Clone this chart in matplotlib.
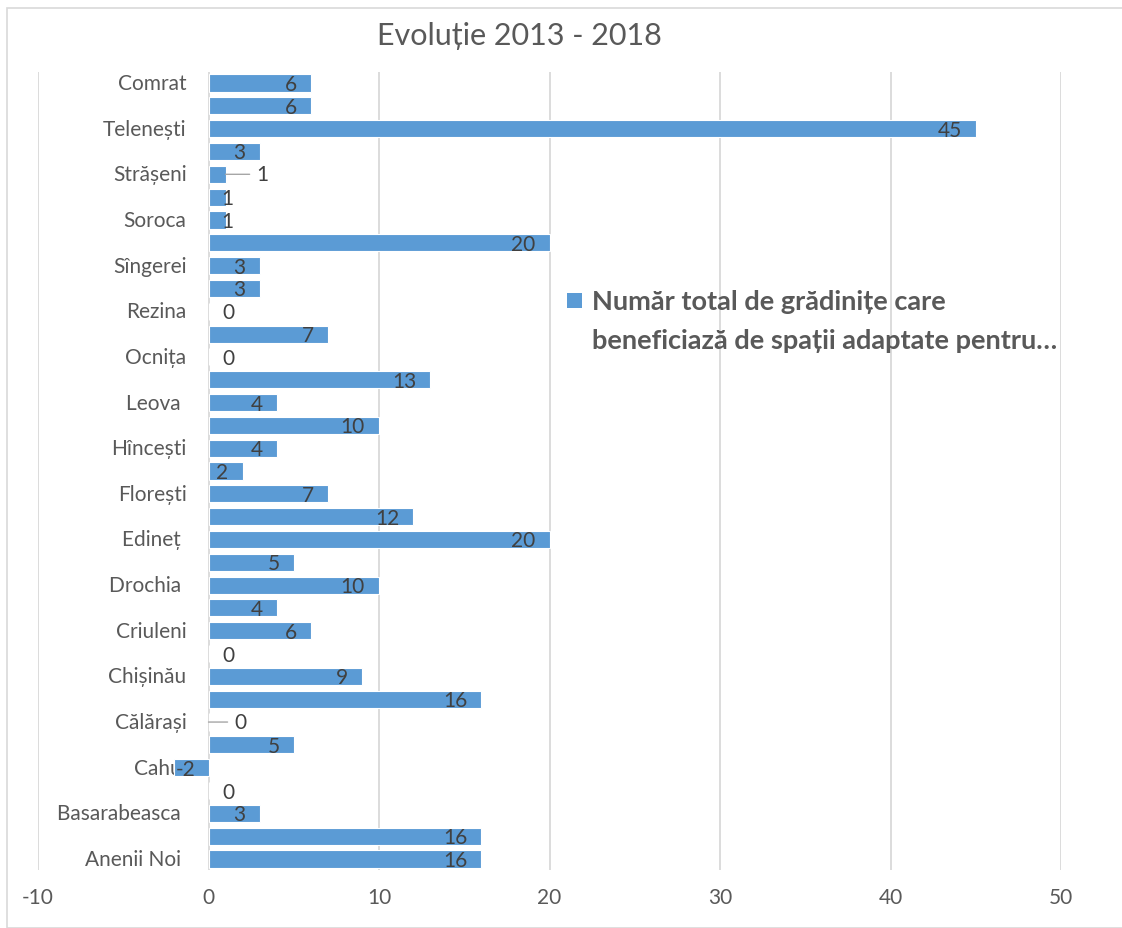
import matplotlib.pyplot as plt
from matplotlib.patches import Rectangle

# raioane, de jos in sus (ordinea din grafic)
raioane = ["Anenii Noi ", "Bălți", "Basarabeasca ", "Briceni", "Cahul", "Cantemir",
           "Călărași", "Căușeni", "Chișinău", "Cimișlia", "Criuleni", "Dondușeni",
           "Drochia ", "Dubăsari", "Edineț ", "Fălești", "Florești", "Glodeni",
           "Hîncești", "Ialoveni", "Leova ", "Nisporeni", "Ocnița", "Orhei",
           "Rezina", "Rîșcani", "Sîngerei", "Șoldănești", "Soroca", "Ștefan Vodă",
           "Strășeni", "Taraclia", "Telenești", "Ungheni", "Comrat"]
valori = [16, 16, 3, 0, -2, 5, 0, 16, 9, 0, 6, 4, 10, 5, 20, 12, 7, 2, 4, 10,
          4, 13, 0, 7, 0, 3, 3, 20, 1, 1, 1, 3, 45, 6, 6]
# etichete mutate manual (cu linie de legatura): index -> deplasare in pixeli
mutate = {6: 26, 30: 31}

titlu = "Evoluție 2013 - 2018"
legenda = ["Număr total de grădinițe care", "beneficiază de spații adaptate pentru…"]
xticks = [-10, 0, 10, 20, 30, 40, 50]

plt.rcParams['font.family'] = ['Lato', 'DejaVu Sans']
plt.rcParams['axes.unicode_minus'] = False
W, H = 1122, 929
PT = 72 / 100  # pixeli -> puncte
FS = 15

fig = plt.figure(figsize=(W / 100, H / 100), dpi=100)
fig.patches.append(Rectangle((7 / W, 0), 1.2, 1 - 9 / H, transform=fig.transFigure,
                             fill=False, edgecolor='#D9D9D9', linewidth=1.2))

ax = fig.add_axes([38 / W, 1 - 871.4 / H, (1061 - 38) / W, (871.4 - 72.6) / H])
y = list(range(len(valori)))
ax.barh(y, valori, height=0.75, color='#5B9BD5', edgecolor='white', linewidth=0.8, zorder=2)
ax.set_xlim(-10, 50)
ax.set_ylim(-0.5, len(valori) - 0.5)
ax.set_xticks(xticks)
ax.grid(axis='x', color='#D9D9D9', linewidth=1.3, zorder=0)
for s in ax.spines.values():
    s.set_visible(False)
ax.tick_params(axis='x', length=0, pad=12, labelsize=FS, labelcolor='#595959')
ax.set_yticks([])

# etichete categorii langa axa 0
for i, name in enumerate(raioane):
    if i % 2 == 0:
        ax.annotate(name, (0, i), xytext=(-22 * PT, 0), textcoords='offset points',
                    ha='right', va='center', fontsize=FS, color='#595959', zorder=1)

# etichete date
for i, v in enumerate(valori):
    lab = str(v)
    kw = dict(textcoords='offset points', va='center', fontsize=FS, color='#404040', zorder=3)
    if i in mutate:
        ax.annotate(lab, (v, i), xytext=(mutate[i] * PT, 0), ha='left',
                    arrowprops=dict(arrowstyle='-', color='#A6A6A6', lw=1,
                                    shrinkA=3, shrinkB=0), **kw)
    elif v == 0:
        ax.annotate(lab, (0, i), xytext=(14 * PT, -1 * PT), ha='left', **kw)
    elif v < 0:
        ax.annotate(lab, (v, i), xytext=(1 * PT, -1 * PT), ha='left', **kw)
    elif v == 1:
        ax.annotate(lab, (v, i), xytext=(-4 * PT, -1 * PT), ha='left', **kw)
    else:
        ax.annotate(lab, (v, i), xytext=(-14 * PT, -1 * PT), ha='right', **kw)

fig.text(519 / W, 1 - 36 / H, titlu, ha='center', va='center', fontsize=22, color='#595959')

# legenda
fig.patches.append(Rectangle((567 / W, 1 - 309 / H), 15 / W, 15 / H, transform=fig.transFigure,
                             facecolor='#5B9BD5', edgecolor='none'))
fig.text(592 / W, 1 - 302 / H, legenda[0], ha='left', va='center', fontsize=19.5,
         fontweight='bold', color='#595959')
fig.text(592 / W, 1 - 341 / H, legenda[1], ha='left', va='center', fontsize=19.5,
         fontweight='bold', color='#595959')

fig.savefig('out.png', dpi=100)
